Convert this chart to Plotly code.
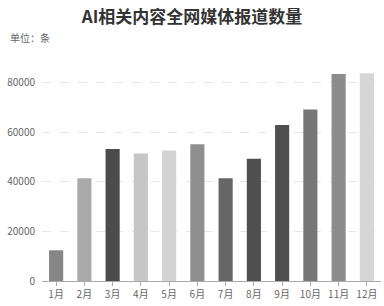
import plotly.graph_objects as go

months = ["1月", "2月", "3月", "4月", "5月", "6月", "7月", "8月", "9月", "10月", "11月", "12月"]
counts = [12400, 41500, 53300, 51500, 52700, 55200, 41500, 49300, 63000, 69200, 83500, 83800]
colors = ["#868686", "#aaaaaa", "#4b4b4b", "#c6c6c6", "#d3d3d3", "#8f8f8f",
          "#666666", "#4f4f4f", "#4f4f4f", "#777777", "#8c8c8c", "#d6d6d6"]
y_ticks = [0, 20000, 40000, 60000, 80000]
y_labels = ["0", "20000", "40000", "60000", "80000"]

FONT = "Noto Sans CJK SC"
W, H = 384, 306
L, R, T, B = 42, 3, 58, 25

fig = go.Figure(go.Bar(
    x=months, y=counts, marker=dict(color=colors, line=dict(width=0)), width=0.5,
))

fig.update_layout(
    width=W, height=H,
    margin=dict(l=L, r=R, t=T, b=B),
    paper_bgcolor="white", plot_bgcolor="white",
    font=dict(family=FONT, size=10, color="#666666"),
    showlegend=False,
    title=dict(text="<b>AI相关内容全网媒体报道数量</b>", x=0.5, xanchor="center",
               y=1 - 17 / H, yanchor="middle", yref="container",
               font=dict(family=FONT, size=17, color="#333333")),
    bargap=0.5,
)
fig.add_annotation(text="单位：条", xref="paper", yref="paper",
                   x=(8 - L) / (W - L - R), y=(H - B - 38) / (H - T - B),
                   xanchor="left", yanchor="middle", showarrow=False,
                   font=dict(family=FONT, size=10, color="#666666"))

fig.update_xaxes(showgrid=False, showline=True, linecolor="#aaaaaa", linewidth=1,
                 ticks="outside", ticklen=4, tickcolor="#aaaaaa",
                 tickfont=dict(size=10, color="#666666"))
fig.update_yaxes(range=[0, 90000], tickvals=y_ticks, ticktext=y_labels, showgrid=True,
                 gridcolor="#e6e6e6", griddash="dash", gridwidth=1,
                 zeroline=False, showline=False, ticks="", ticklabelstandoff=6,
                 tickfont=dict(size=10, color="#666666"))

fig.write_html("out.html")
